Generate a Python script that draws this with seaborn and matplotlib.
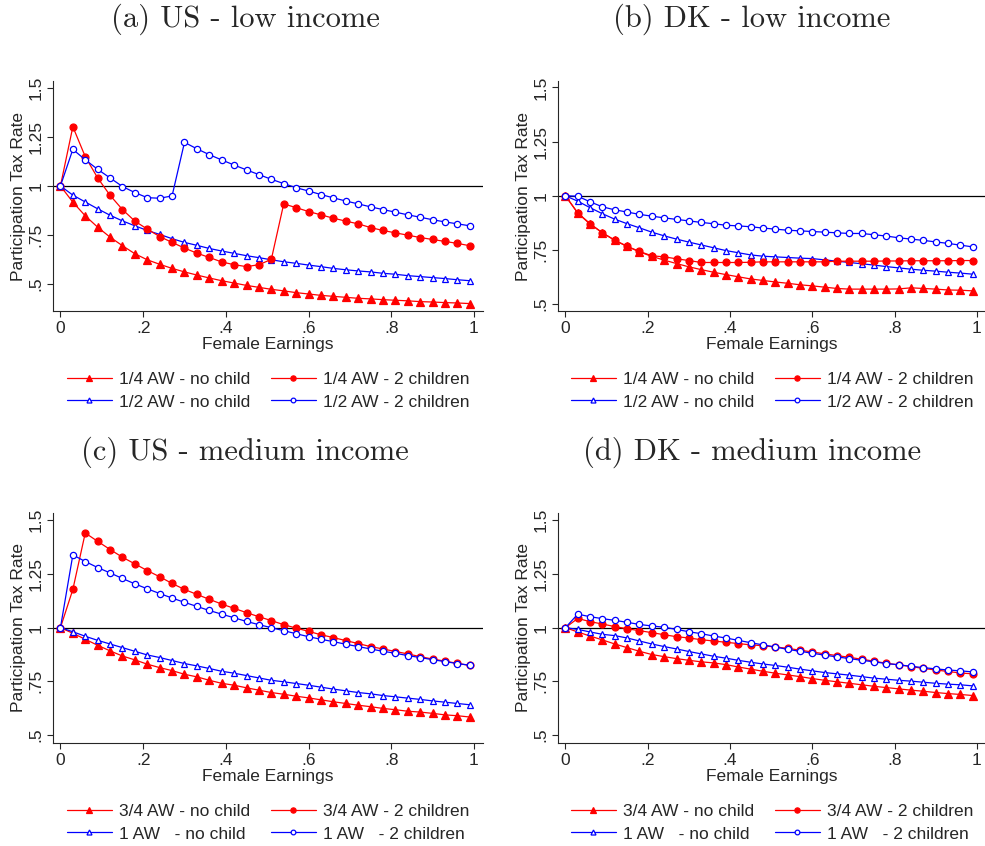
import pandas as pd
import seaborn as sns
import matplotlib.pyplot as plt

earnings = [0.00, 0.03, 0.06, 0.09, 0.12, 0.15, 0.18, 0.21, 0.24, 0.27, 0.30, 0.33,
            0.36, 0.39, 0.42, 0.45, 0.48, 0.51, 0.54, 0.57, 0.60, 0.63, 0.66, 0.69,
            0.72, 0.75, 0.78, 0.81, 0.84, 0.87, 0.90, 0.93, 0.96, 0.99]

# (a) US - low income
us_low_q_nochild = [1.000, 0.917, 0.847, 0.789, 0.738, 0.694, 0.653, 0.622, 0.599, 0.578, 0.560, 0.544,
                    0.529, 0.515, 0.503, 0.491, 0.481, 0.471, 0.463, 0.454, 0.447, 0.440, 0.435, 0.430,
                    0.425, 0.422, 0.418, 0.415, 0.412, 0.408, 0.406, 0.403, 0.401, 0.398]
us_low_q_kids = [1.000, 1.303, 1.150, 1.041, 0.952, 0.879, 0.820, 0.779, 0.741, 0.711, 0.682, 0.656,
                 0.634, 0.611, 0.597, 0.587, 0.597, 0.624, 0.908, 0.889, 0.869, 0.852, 0.835, 0.820,
                 0.806, 0.787, 0.772, 0.760, 0.748, 0.736, 0.726, 0.716, 0.706, 0.694]
us_low_h_nochild = [1.000, 0.953, 0.918, 0.883, 0.850, 0.821, 0.796, 0.772, 0.752, 0.730, 0.711, 0.696,
                    0.680, 0.667, 0.655, 0.643, 0.633, 0.622, 0.612, 0.604, 0.595, 0.587, 0.578, 0.571,
                    0.565, 0.560, 0.553, 0.548, 0.541, 0.536, 0.531, 0.526, 0.520, 0.515]
us_low_h_kids = [1.000, 1.187, 1.134, 1.085, 1.041, 0.997, 0.966, 0.940, 0.937, 0.949, 1.223, 1.190,
                 1.160, 1.133, 1.107, 1.082, 1.058, 1.034, 1.012, 0.991, 0.974, 0.956, 0.939, 0.923,
                 0.908, 0.893, 0.879, 0.866, 0.852, 0.840, 0.827, 0.816, 0.806, 0.796]

# (b) DK - low income
dk_low_q_nochild = [1.000, 0.920, 0.869, 0.829, 0.794, 0.766, 0.741, 0.720, 0.703, 0.687, 0.672, 0.659,
                    0.647, 0.636, 0.626, 0.616, 0.609, 0.602, 0.596, 0.589, 0.584, 0.578, 0.572, 0.569,
                    0.569, 0.569, 0.569, 0.570, 0.575, 0.572, 0.569, 0.565, 0.564, 0.561]
dk_low_q_kids = [1.000, 0.921, 0.871, 0.829, 0.795, 0.767, 0.743, 0.723, 0.718, 0.709, 0.701, 0.692,
                 0.692, 0.692, 0.692, 0.693, 0.695, 0.695, 0.695, 0.695, 0.695, 0.695, 0.698, 0.698,
                 0.698, 0.698, 0.699, 0.699, 0.700, 0.700, 0.700, 0.700, 0.701, 0.701]
dk_low_h_nochild = [1.000, 0.975, 0.945, 0.917, 0.892, 0.871, 0.852, 0.832, 0.815, 0.800, 0.786, 0.773,
                    0.760, 0.747, 0.737, 0.727, 0.721, 0.718, 0.715, 0.712, 0.710, 0.704, 0.698, 0.692,
                    0.686, 0.680, 0.673, 0.667, 0.661, 0.656, 0.652, 0.647, 0.643, 0.638]
dk_low_h_kids = [1.000, 0.998, 0.972, 0.949, 0.935, 0.925, 0.914, 0.906, 0.898, 0.891, 0.884, 0.877,
                 0.871, 0.864, 0.861, 0.857, 0.851, 0.846, 0.841, 0.838, 0.835, 0.832, 0.829, 0.826,
                 0.826, 0.820, 0.814, 0.806, 0.800, 0.794, 0.787, 0.780, 0.772, 0.764]

# (c) US - medium income
us_med_q_nochild = [1.000, 0.974, 0.946, 0.918, 0.892, 0.868, 0.850, 0.830, 0.814, 0.800, 0.783, 0.771,
                    0.755, 0.741, 0.732, 0.720, 0.709, 0.698, 0.690, 0.681, 0.673, 0.664, 0.655, 0.647,
                    0.639, 0.632, 0.624, 0.618, 0.611, 0.607, 0.601, 0.594, 0.590, 0.584]
us_med_q_kids = [1.000, 1.178, 1.441, 1.402, 1.364, 1.328, 1.297, 1.266, 1.237, 1.206, 1.178, 1.155,
                 1.132, 1.110, 1.090, 1.070, 1.051, 1.033, 1.014, 0.998, 0.983, 0.967, 0.954, 0.940,
                 0.926, 0.912, 0.901, 0.889, 0.878, 0.865, 0.854, 0.844, 0.834, 0.824]
us_med_f_nochild = [1.000, 0.981, 0.960, 0.941, 0.924, 0.907, 0.890, 0.873, 0.861, 0.847, 0.833, 0.822,
                    0.810, 0.797, 0.788, 0.777, 0.766, 0.755, 0.748, 0.740, 0.732, 0.723, 0.714, 0.706,
                    0.698, 0.692, 0.684, 0.678, 0.672, 0.666, 0.659, 0.653, 0.647, 0.641]
us_med_f_kids = [1.000, 1.339, 1.308, 1.280, 1.255, 1.229, 1.204, 1.181, 1.159, 1.138, 1.118, 1.099,
                 1.080, 1.063, 1.046, 1.029, 1.014, 1.000, 0.986, 0.972, 0.958, 0.946, 0.935, 0.923,
                 0.912, 0.901, 0.890, 0.881, 0.870, 0.861, 0.851, 0.842, 0.833, 0.825]

# (d) DK - medium income
dk_med_q_nochild = [1.000, 0.980, 0.961, 0.943, 0.924, 0.907, 0.890, 0.875, 0.865, 0.856, 0.848, 0.841,
                    0.836, 0.828, 0.817, 0.807, 0.797, 0.788, 0.780, 0.772, 0.763, 0.755, 0.748, 0.741,
                    0.734, 0.727, 0.721, 0.715, 0.709, 0.704, 0.698, 0.693, 0.689, 0.684]
dk_med_q_kids = [1.000, 1.043, 1.028, 1.017, 1.005, 0.995, 0.986, 0.977, 0.967, 0.958, 0.952, 0.944,
                 0.938, 0.932, 0.926, 0.920, 0.916, 0.910, 0.904, 0.895, 0.887, 0.878, 0.870, 0.862,
                 0.853, 0.844, 0.834, 0.827, 0.819, 0.810, 0.803, 0.796, 0.789, 0.785]
dk_med_f_nochild = [1.000, 0.992, 0.980, 0.969, 0.963, 0.952, 0.938, 0.924, 0.912, 0.901, 0.889, 0.878,
                    0.867, 0.858, 0.848, 0.839, 0.831, 0.824, 0.816, 0.807, 0.799, 0.791, 0.785, 0.779,
                    0.772, 0.765, 0.760, 0.755, 0.751, 0.746, 0.741, 0.737, 0.734, 0.729]
dk_med_f_kids = [1.000, 1.063, 1.051, 1.042, 1.034, 1.025, 1.015, 1.008, 1.002, 0.992, 0.981, 0.972,
                 0.961, 0.952, 0.941, 0.930, 0.920, 0.910, 0.899, 0.890, 0.881, 0.872, 0.864, 0.856,
                 0.848, 0.841, 0.833, 0.827, 0.820, 0.814, 0.808, 0.803, 0.799, 0.794]

titles = ["(a) US - low income", "(b) DK - low income",
          "(c) US - medium income", "(d) DK - medium income"]
low_labels = ["1/4 AW - no child", "1/2 AW - no child",
              "1/4 AW - 2 children", "1/2 AW - 2 children"]
med_labels = ["3/4 AW - no child", "1 AW   - no child",
              "3/4 AW - 2 children", "1 AW   - 2 children"]
x_ticks = [0, 0.2, 0.4, 0.6, 0.8, 1]
x_tick_labels = ["0", ".2", ".4", ".6", ".8", "1"]
y_ticks = [0.5, 0.75, 1, 1.25, 1.5]
y_tick_labels = [".5", ".75", "1", "1.25", "1.5"]

sns.set_style("ticks")
plt.rcParams["font.family"] = ["Liberation Sans", "DejaVu Sans"]

RED = "#ff0000"
BLUE = "#0000ff"
# series order: low earner no child, high earner no child, low earner kids, high earner kids
styles = [
    dict(color=RED, marker="^", markersize=5.6, markerfacecolor=RED, markeredgecolor=RED),
    dict(color=BLUE, marker="^", markersize=4.8, markerfacecolor="white", markeredgecolor=BLUE),
    dict(color=RED, marker="o", markersize=5.0, markerfacecolor=RED, markeredgecolor=RED),
    dict(color=BLUE, marker="o", markersize=4.5, markerfacecolor="white", markeredgecolor=BLUE),
]

panels = [
    dict(series=[us_low_q_nochild, us_low_h_nochild, us_low_q_kids, us_low_h_kids],
         labels=low_labels, ylim=(0.36, 1.537)),
    dict(series=[dk_low_q_nochild, dk_low_h_nochild, dk_low_q_kids, dk_low_h_kids],
         labels=low_labels, ylim=(0.468, 1.53)),
    dict(series=[us_med_q_nochild, us_med_f_nochild, us_med_q_kids, us_med_f_kids],
         labels=med_labels, ylim=(0.463, 1.534)),
    dict(series=[dk_med_q_nochild, dk_med_f_nochild, dk_med_q_kids, dk_med_f_kids],
         labels=med_labels, ylim=(0.463, 1.534)),
]

W, H = 985, 846
fig = plt.figure(figsize=(W / 100, H / 100), dpi=100)

# axes boxes in pixels: left, top, width, height
boxes = [(53, 81, 430, 230), (558, 81, 428, 230),
         (53, 513, 430, 230), (558, 513, 428, 230)]
title_pos = [(245, 19), (752, 19), (245, 452), (752, 452)]

for i, (panel, box) in enumerate(zip(panels, boxes)):
    l, t, w, h = box
    ax = fig.add_axes([l / W, 1 - (t + h) / H, w / W, h / H])

    handles = []
    for vals, st, lab in zip(panel["series"], styles, panel["labels"]):
        df = pd.DataFrame({"earn": earnings, "ptr": vals})
        sns.lineplot(data=df, x="earn", y="ptr", ax=ax, linewidth=0.9,
                     markeredgewidth=0.9, label=lab, legend=False, **st)
        handles.append(ax.lines[-1])

    ax.axhline(1, color="black", linewidth=0.9, zorder=0)

    ax.set_xlim(-0.018, 1.022)
    ax.set_ylim(*panel["ylim"])
    ax.set_xticks(x_ticks)
    ax.set_xticklabels(x_tick_labels, fontsize=12.5)
    ax.set_yticks(y_ticks)
    ax.set_yticklabels(y_tick_labels, fontsize=12.5, rotation=90, va="center")
    ax.tick_params(direction="out", length=4, width=0.8, pad=3)
    ax.set_xlabel("Female Earnings", fontsize=12.5, labelpad=1)
    ax.set_ylabel("Participation Tax Rate", fontsize=12.5)
    ax.yaxis.set_label_coords(-0.062, 0.5)
    sns.despine(ax=ax)
    for sp in ("left", "bottom"):
        ax.spines[sp].set_linewidth(0.8)

    ax.legend(handles=handles, labels=panel["labels"], ncol=2,
              loc="upper center", bbox_to_anchor=(0.5, -0.225),
              frameon=False, fontsize=12.5, handlelength=2.6,
              handletextpad=0.4, columnspacing=1.2, labelspacing=0.45,
              borderpad=0, markerscale=0.75)

    tx, ty = title_pos[i]
    fig.text(tx / W, 1 - ty / H, titles[i], ha="center", va="center",
             fontsize=22, family=["cmr10", "DejaVu Serif"])

fig.savefig("out.png", dpi=100)
